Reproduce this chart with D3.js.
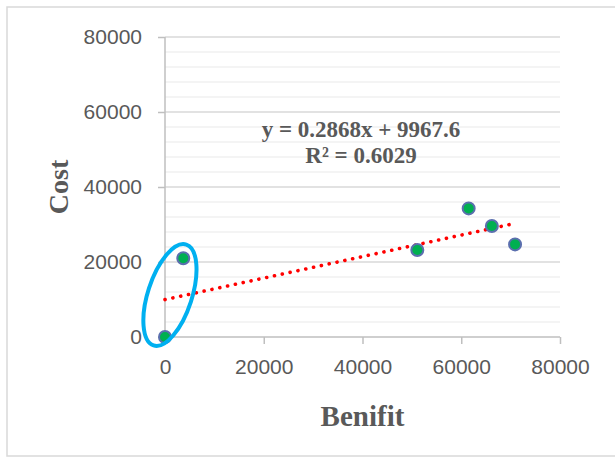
<!DOCTYPE html>
<html>
<head>
<meta charset="utf-8">
<script src="https://cdn.jsdelivr.net/npm/d3@7"></script>
<style>
  body { margin: 0; background: #fff; }
</style>
</head>
<body>
<script>
// data
var benefit = [0, 3700, 51100, 61500, 66200, 70900];
var cost = [0, 21000, 23200, 34300, 29600, 24700];
var xTicks = [0, 20000, 40000, 60000, 80000];
var yTicks = [0, 20000, 40000, 60000, 80000];
var trendSlope = 0.2868, trendIntercept = 9967.6;
var eqnLines = ["y = 0.2868x + 9967.6", "R² = 0.6029"];
// circled group (centre in data units)
var ringCentre = [1000, 11200];

var W = 615, H = 457;
var margin = {top: 37, right: 55, bottom: 120, left: 165},
    width = 560 - margin.left,
    height = 337 - margin.top;

var svg = d3.select("body").append("svg")
    .attr("width", W)
    .attr("height", H);

// outer frame (right side is cut off in the original)
svg.append("path")
    .attr("d", "M" + W + ",7H7V456H" + W)
    .style("fill", "none")
    .style("stroke", "#d9d9d9")
    .style("stroke-width", "1.5px");

var g = svg.append("g")
    .attr("transform", "translate(" + margin.left + "," + margin.top + ")");

var xScale = d3.scaleLinear().domain([0, 80000]).range([0, width]);
var yScale = d3.scaleLinear().domain([0, 80000]).range([height, 0]);

// minor gridlines every 4000
var minor = d3.range(4000, 80000, 4000).filter(function(d) { return d % 20000 != 0; });
g.selectAll(".minor").data(minor).enter().append("line")
    .attr("class", "minor")
    .attr("x1", 0).attr("x2", width)
    .attr("y1", function(d) { return yScale(d); })
    .attr("y2", function(d) { return yScale(d); })
    .style("stroke", "#f0f0f0")
    .style("stroke-width", "1.5px");

// major gridlines
g.selectAll(".major").data(yTicks.slice(1)).enter().append("line")
    .attr("class", "major")
    .attr("x1", 0).attr("x2", width)
    .attr("y1", function(d) { return yScale(d); })
    .attr("y2", function(d) { return yScale(d); })
    .style("stroke", "#d9d9d9")
    .style("stroke-width", "1.5px");

var xAxis = d3.axisBottom(xScale).tickValues(xTicks).tickSize(7).tickPadding(10).tickFormat(d3.format("d"));
var yAxis = d3.axisLeft(yScale).tickValues(yTicks).tickSize(7).tickPadding(16).tickFormat(d3.format("d"));

var gx = g.append("g")
    .attr("transform", "translate(0," + height + ")")
    .call(xAxis);
var gy = g.append("g").call(yAxis);

[gx, gy].forEach(function(a) {
  a.selectAll("path, line").style("stroke", "#bfbfbf").style("stroke-width", "1.5px");
  a.selectAll("text")
    .style("font-family", "'Liberation Sans', Arial, sans-serif")
    .style("font-size", "21px")
    .style("fill", "#595959");
});
gx.select(".domain").attr("d", "M0,0H" + width);
gy.select(".domain").attr("d", "M0," + height + "V0");
gx.selectAll("text").attr("dy", "0.95em");

// trendline
var trendX = [0, d3.max(benefit)];
g.append("line")
    .attr("x1", xScale(trendX[0]))
    .attr("y1", yScale(trendSlope * trendX[0] + trendIntercept))
    .attr("x2", xScale(trendX[1]))
    .attr("y2", yScale(trendSlope * trendX[1] + trendIntercept))
    .style("stroke", "#ff0000")
    .style("stroke-width", "3.6px")
    .style("stroke-linecap", "round")
    .style("stroke-dasharray", "0.1,7.9");

// points
var data = benefit.map(function(d, i) { return {x: d, y: cost[i]}; });
g.selectAll(".dot").data(data).enter().append("circle")
    .attr("class", "dot")
    .attr("r", 6)
    .attr("cx", function(d) { return xScale(d.x); })
    .attr("cy", function(d) { return yScale(d.y); })
    .style("fill", "#00b050")
    .style("stroke", "#5b6fae")
    .style("stroke-width", "2px");

// highlight ring
g.append("ellipse")
    .attr("transform", "translate(" + xScale(ringCentre[0]) + "," + yScale(ringCentre[1]) + ") rotate(18)")
    .attr("rx", 22).attr("ry", 53)
    .style("fill", "none")
    .style("stroke", "#00b0f0")
    .style("stroke-width", "4px");

// equation label
svg.append("g").selectAll("text").data(eqnLines).enter().append("text")
    .attr("x", 361)
    .attr("y", function(d, i) { return 137 + i * 26; })
    .style("text-anchor", "middle")
    .style("font-family", "'Liberation Serif', 'Times New Roman', serif")
    .style("font-weight", "bold")
    .style("font-size", "23px")
    .style("fill", "#595959")
    .text(function(d) { return d; });

// axis titles
svg.append("text")
    .attr("x", margin.left + width / 2)
    .attr("y", 426)
    .style("text-anchor", "middle")
    .style("font-family", "'Liberation Serif', 'Times New Roman', serif")
    .style("font-weight", "bold")
    .style("font-size", "29px")
    .style("fill", "#595959")
    .text("Benifit");

svg.append("text")
    .attr("transform", "translate(68,187) rotate(-90)")
    .style("text-anchor", "middle")
    .style("font-family", "'Liberation Serif', 'Times New Roman', serif")
    .style("font-weight", "bold")
    .style("font-size", "28px")
    .style("fill", "#595959")
    .text("Cost");
</script>
</body>
</html>
